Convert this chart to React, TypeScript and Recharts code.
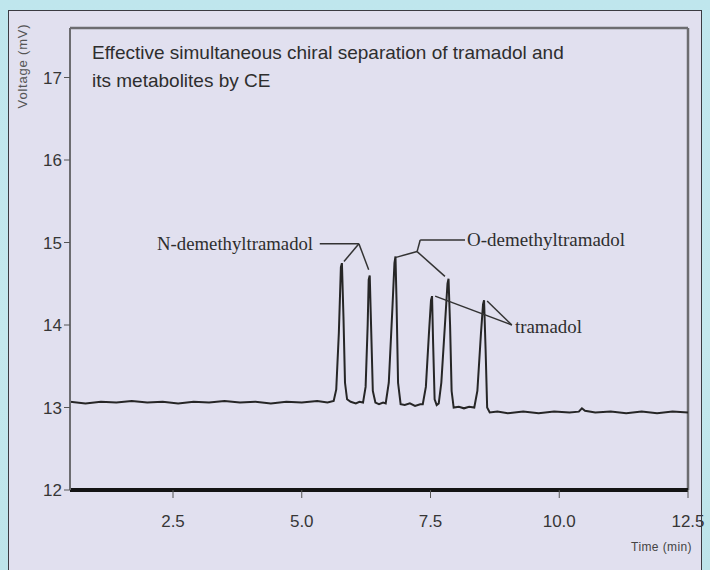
import { LineChart, Line, XAxis, YAxis, ReferenceLine, ReferenceDot } from "recharts";

// ---------------------------------------------------------------------------
// Data
// ---------------------------------------------------------------------------

const times = [
  0.5, 0.8, 1.1, 1.4, 1.7, 2.0, 2.3, 2.6, 2.9, 3.2, 3.5, 3.8, 4.1, 4.4, 4.7, 5.0, 5.3, 5.5,
  5.62, 5.67, 5.72, 5.76, 5.78, 5.81, 5.84, 5.88, 5.95, 6.05, 6.12,
  6.19, 6.24, 6.28, 6.3, 6.32, 6.35, 6.38, 6.43, 6.5, 6.58,
  6.63, 6.69, 6.76, 6.8, 6.82, 6.84, 6.87, 6.92, 7.0, 7.1, 7.2, 7.3,
  7.35, 7.41, 7.47, 7.51, 7.53, 7.55, 7.58, 7.62,
  7.66, 7.71, 7.78, 7.83, 7.85, 7.88, 7.91, 7.95, 8.05, 8.15, 8.25,
  8.35, 8.41, 8.48, 8.52, 8.54, 8.57, 8.6, 8.65,
  8.8, 9.0, 9.3, 9.6, 9.9, 10.2, 10.38, 10.44, 10.5, 10.7, 11.0, 11.3, 11.6, 11.9, 12.2, 12.5,
];

const voltages = [
  13.07, 13.05, 13.07, 13.06, 13.08, 13.06, 13.07, 13.05, 13.07, 13.06, 13.08, 13.06, 13.07, 13.05, 13.07, 13.06, 13.08, 13.06,
  13.08, 13.22, 13.9, 14.7, 14.75, 14.1, 13.3, 13.1, 13.07, 13.05, 13.07,
  13.06, 13.25, 14.0, 14.55, 14.6, 13.9, 13.2, 13.06, 13.04, 13.06,
  13.05, 13.3, 14.2, 14.75, 14.83, 14.3, 13.3, 13.04, 13.03, 13.05, 13.02, 13.04,
  13.04, 13.25, 13.9, 14.3, 14.35, 13.8, 13.1, 13.03,
  13.05, 13.3, 14.0, 14.5, 14.56, 14.0, 13.2, 13.0, 13.01, 12.99, 13.01,
  13.0, 13.2, 13.9, 14.25, 14.3, 13.7, 13.0, 12.94,
  12.95, 12.93, 12.95, 12.93, 12.95, 12.94, 12.95, 12.99, 12.96, 12.94, 12.95, 12.93, 12.95, 12.93, 12.95, 12.94,
];

const xTicks = [2.5, 5, 7.5, 10, 12.5];
const yTicks = [12, 13, 14, 15, 16, 17];
const xDomain = [0.5, 12.5];
const yDomain = [12, 17.6];

// leader lines, in (time, voltage)
const nDemethylLeaders = [
  [{ x: 5.35, y: 14.985 }, { x: 6.11, y: 14.985 }],
  [{ x: 6.11, y: 14.985 }, { x: 5.82, y: 14.77 }],
  [{ x: 6.11, y: 14.985 }, { x: 6.3, y: 14.67 }],
];
const oDemethylLeaders = [
  [{ x: 8.17, y: 15.03 }, { x: 7.3, y: 15.03 }],
  [{ x: 7.3, y: 15.03 }, { x: 7.24, y: 14.89 }],
  [{ x: 7.24, y: 14.89 }, { x: 6.83, y: 14.82 }],
  [{ x: 7.24, y: 14.89 }, { x: 7.78, y: 14.59 }],
];
const tramadolLeaders = [
  [{ x: 7.59, y: 14.35 }, { x: 9.08, y: 14.0 }],
  [{ x: 8.6, y: 14.29 }, { x: 9.08, y: 14.0 }],
];

const peakLabels = [
  { text: "N-demethyltramadol", x: 5.22, y: 14.985, anchor: "end", len: 156 },
  { text: "O-demethyltramadol", x: 8.21, y: 15.03, anchor: "start", len: 158 },
  { text: "tramadol", x: 9.14, y: 13.97, anchor: "start", len: 67 },
];

const chartData = times.map((t, i) => ({ t, v: voltages[i] }));

// ---------------------------------------------------------------------------
// Styles
// ---------------------------------------------------------------------------

const SANS = '"Liberation Sans", Arial, sans-serif';
const SERIF = '"Liberation Serif", "Times New Roman", serif';
const INK = "#262626";
const FRAME = "#6c6c70";

const tickStyle = { fontSize: 17, fill: "#363636", fontFamily: SANS };

function makePeakLabel(text: string, anchor: string, len: number) {
  return (props: any) => {
    const vb = props.viewBox || { x: 0, y: 0, width: 0, height: 0 };
    const cx = vb.x + (vb.width || 0) / 2;
    const cy = vb.y + (vb.height || 0) / 2;
    return (
      <text
        x={cx}
        y={cy}
        dy={6}
        textAnchor={anchor}
        fontFamily={SERIF}
        fontSize={18}
        fill="#2e2e2e"
        textLength={len}
        lengthAdjust="spacingAndGlyphs"
      >
        {text}
      </text>
    );
  };
}

// ---------------------------------------------------------------------------
// Component
// ---------------------------------------------------------------------------

export default function App() {
  const leaders = [...nDemethylLeaders, ...oDemethylLeaders, ...tramadolLeaders];

  return (
    <div
      style={{
        position: "fixed",
        left: 0,
        top: 0,
        width: 710,
        height: 570,
        overflow: "hidden",
        background: "linear-gradient(180deg, #bfe6ed 0%, #c4e8ee 60%, #bde4ea 100%)",
      }}
    >
      {/* panel */}
      <div
        style={{
          position: "absolute",
          left: 8,
          top: 10,
          width: 692,
          height: 580,
          border: "1px solid #3b3b42",
          background: "#e1e0ef",
        }}
      />

      <div style={{ position: "absolute", left: 0, top: 0 }}>
        <LineChart
          width={710}
          height={570}
          data={chartData}
          margin={{ top: 28, right: 22, bottom: 40, left: 10 }}
        >
          <XAxis
            type="number"
            dataKey="t"
            domain={xDomain}
            ticks={xTicks}
            interval={0}
            allowDataOverflow
            tickFormatter={(v: number) => v.toFixed(1)}
            height={40}
            axisLine={{ stroke: "#141414", strokeWidth: 4 }}
            tickLine={{ stroke: "#555" }}
            tickSize={8}
            tickMargin={17}
            tick={tickStyle}
          />
          <YAxis
            type="number"
            domain={yDomain}
            ticks={yTicks}
            interval={0}
            allowDataOverflow
            width={60}
            axisLine={{ stroke: FRAME, strokeWidth: 2 }}
            tickLine={{ stroke: "#555" }}
            tickSize={6}
            tickMargin={2}
            tick={tickStyle}
          />
          <ReferenceLine y={yDomain[1]} stroke={FRAME} strokeWidth={2.5} />
          <ReferenceLine x={xDomain[1]} stroke={FRAME} strokeWidth={2.5} />
          <Line
            type="linear"
            dataKey="v"
            stroke={INK}
            strokeWidth={2}
            dot={false}
            isAnimationActive={false}
          />
          {leaders.map((seg, i) => (
            <ReferenceLine
              key={`leader-${i}`}
              segment={seg}
              stroke="#333"
              strokeWidth={1.5}
              ifOverflow="visible"
            />
          ))}
          {peakLabels.map((p) => (
            <ReferenceDot
              key={p.text}
              x={p.x}
              y={p.y}
              r={1}
              fill="none"
              stroke="none"
              ifOverflow="visible"
              label={makePeakLabel(p.text, p.anchor, p.len)}
            />
          ))}
        </LineChart>
      </div>

      {/* title */}
      <div
        style={{
          position: "absolute",
          left: 92,
          top: 39,
          fontFamily: SANS,
          fontSize: 19,
          lineHeight: "28px",
          color: "#2e2e2e",
          whiteSpace: "nowrap",
        }}
      >
        Effective simultaneous chiral separation of tramadol and
        <br />
        its metabolites by CE
      </div>

      {/* axis titles */}
      <div
        style={{
          position: "absolute",
          left: 22,
          top: 66,
          transform: "translate(-50%, -50%) rotate(-90deg)",
          fontFamily: SANS,
          fontSize: 13,
          letterSpacing: 0.8,
          color: "#555",
          whiteSpace: "nowrap",
        }}
      >
        Voltage (mV)
      </div>
      <div
        style={{
          position: "absolute",
          right: 18,
          top: 540,
          fontFamily: SANS,
          fontSize: 12,
          letterSpacing: 0.4,
          color: "#444",
          whiteSpace: "nowrap",
        }}
      >
        Time (min)
      </div>
    </div>
  );
}
